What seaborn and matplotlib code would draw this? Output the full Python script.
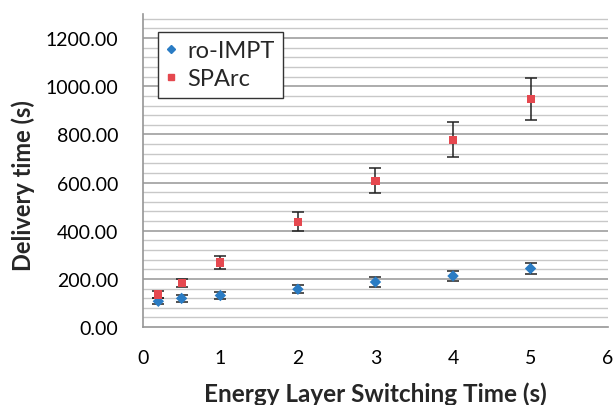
import matplotlib
matplotlib.use("Agg")
import matplotlib.pyplot as plt
import seaborn as sns
import pandas as pd
import numpy as np
from matplotlib.ticker import MultipleLocator, FormatStrFormatter
from matplotlib.lines import Line2D

# Data
switch_time = [0.2, 0.5, 1, 2, 3, 4, 5]
ro_impt = [107, 119, 131, 157, 187, 212, 243]
ro_impt_err = [12, 14, 13, 17, 19, 21, 22]
sparc = [135, 183, 268, 438, 608, 778, 948]
sparc_err = [13, 18, 25, 38, 53, 72, 87]
series_names = ["ro-IMPT", "SPArc"]

sns.set_theme(style="white")
plt.rcParams['font.family'] = ['Lato', 'DejaVu Sans']

df = pd.DataFrame({
    "x": switch_time * 2,
    "y": ro_impt + sparc,
    "err": ro_impt_err + sparc_err,
    "series": [series_names[0]] * len(switch_time) + [series_names[1]] * len(switch_time),
})

colors = {"ro-IMPT": "#2A7CC4", "SPArc": "#E5484F"}
markers = {"ro-IMPT": "D", "SPArc": "s"}

fig = plt.figure(figsize=(6.13, 4.06), dpi=100)
ax = fig.add_axes([0.233, 0.192, 0.759, 0.771])

# gridlines
for v in np.arange(40, 1300, 40):
    major = (v % 200 == 0)
    ax.axhline(v, color="#a6a6a6" if major else "#c8c8c8", lw=1.3 if major else 1.0, zorder=0)

for name in series_names:
    sub = df[df.series == name]
    ax.errorbar(sub.x, sub.y, yerr=sub.err, fmt="none", ecolor="#222222",
                elinewidth=1.1, capsize=4, capthick=1.1, zorder=2)

sns.scatterplot(data=df, x="x", y="y", hue="series", style="series",
                palette=colors, markers=markers, s=34, edgecolor="none",
                ax=ax, zorder=3, legend=False)

# Legend
handles = [Line2D([], [], marker=markers[n], color=colors[n], ls="none", markersize=4)
           for n in series_names]
leg = ax.legend(handles, series_names, loc="upper left", bbox_to_anchor=(0.032, 0.9425),
                fontsize=17, frameon=True, fancybox=False, handlelength=0.45,
                handletextpad=0.45, borderpad=0.35, borderaxespad=0, labelspacing=0.3)
leg.get_frame().set_edgecolor("#333333")
leg.get_frame().set_linewidth(1.0)
leg.get_frame().set_facecolor("white")
leg.get_frame().set_alpha(1)

ax.set_xlim(0, 6)
ax.set_ylim(0, 1300)
ax.xaxis.set_major_locator(MultipleLocator(1))
ax.set_yticks(np.arange(0, 1201, 200))
ax.yaxis.set_major_formatter(FormatStrFormatter("%.2f"))

for s in ["top", "right"]:
    ax.spines[s].set_visible(False)
for s in ["left", "bottom"]:
    ax.spines[s].set_color("#969696")
    ax.spines[s].set_linewidth(1.2)

ax.tick_params(axis="both", which="major", direction="out", length=5.8, width=1.2,
               color="#969696", labelsize=14, labelcolor="black")
ax.tick_params(axis="x", pad=10)
ax.tick_params(axis="y", pad=12)

ax.set_xlabel("Energy Layer Switching Time (s)", fontsize=17.5, fontweight="bold", labelpad=11)
ax.set_ylabel("Delivery time (s)", fontsize=17, fontweight="bold")
ax.yaxis.set_label_coords(-0.232, 0.454)
ax.set_facecolor("white")

fig.savefig("out.png", dpi=100, facecolor="white")
